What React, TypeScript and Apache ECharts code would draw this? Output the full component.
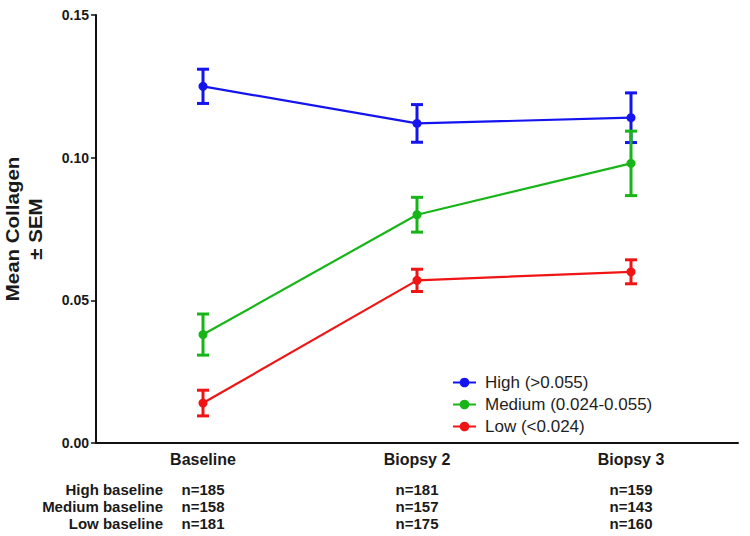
import React, { useEffect, useRef } from "react";
import * as echarts from "echarts";

const categories = ["Baseline", "Biopsy 2", "Biopsy 3"];
const seriesNames = ["High (>0.055)", "Medium (0.024-0.055)", "Low (<0.024)"];
const highMean = [0.125, 0.112, 0.114];
const highSem = [0.006, 0.0066, 0.0087];
const mediumMean = [0.038, 0.08, 0.098];
const mediumSem = [0.0072, 0.0061, 0.0113];
const lowMean = [0.014, 0.057, 0.06];
const lowSem = [0.0045, 0.0039, 0.0042];
const rowLabels = ["High baseline", "Medium baseline", "Low baseline"];
const nHigh = [185, 181, 159];
const nMedium = [158, 157, 143];
const nLow = [181, 175, 160];
const yTicks = { min: 0, max: 0.15, interval: 0.05 };

const colors = ["#1414f0", "#17b517", "#f01414"];
const FONT = "'Liberation Sans', Arial, Helvetica, sans-serif";

export default function App() {
  const ref = useRef<HTMLDivElement>(null);
  useEffect(() => {
    if (!ref.current) return;
    const chart = echarts.init(ref.current, undefined, { renderer: "svg" });
    const means = [highMean, mediumMean, lowMean];
    const sems = [highSem, mediumSem, lowSem];

    const lineSeries = means.map((m, k) => ({
      type: "line",
      name: seriesNames[k],
      data: m,
      symbol: "circle",
      symbolSize: 9,
      itemStyle: { color: colors[k] },
      lineStyle: { color: colors[k], width: 2.2 },
      z: 3,
    }));

    const errSeries = means.map((m, k) => ({
      type: "custom",
      name: seriesNames[k] + " SEM",
      data: m.map((v, i) => [i, v - sems[k][i], v + sems[k][i]]),
      encode: { x: 0, y: [1, 2] },
      z: 2,
      renderItem: (params: any, api: any) => {
        const xi = api.value(0);
        const lo = api.coord([xi, api.value(1)]);
        const hi = api.coord([xi, api.value(2)]);
        const w = 6;
        const st = { stroke: colors[k], lineWidth: 3 };
        return {
          type: "group",
          children: [
            { type: "line", shape: { x1: lo[0], y1: lo[1], x2: hi[0], y2: hi[1] }, style: st },
            { type: "line", shape: { x1: lo[0] - w, y1: lo[1], x2: lo[0] + w, y2: lo[1] }, style: st },
            { type: "line", shape: { x1: hi[0] - w, y1: hi[1], x2: hi[0] + w, y2: hi[1] }, style: st },
          ],
        };
      },
    }));

    const option: any = {
      animation: false,
      backgroundColor: "#ffffff",
      textStyle: { fontFamily: FONT },
      grid: { left: 96, right: 12, top: 15, bottom: 93, containLabel: false },
      legend: {
        data: seriesNames,
        orient: "vertical",
        left: 447,
        top: 369,
        itemWidth: 23,
        itemHeight: 12,
        itemGap: 5,
        textStyle: { fontSize: 17, color: "#1e1e1e", fontFamily: FONT, padding: [0, 0, 0, 4] },
      },
      xAxis: {
        type: "category",
        data: categories,
        boundaryGap: true,
        axisLine: { lineStyle: { color: "#111", width: 2 } },
        axisTick: { alignWithLabel: true, length: 5, lineStyle: { color: "#111", width: 1.5 } },
        axisLabel: {
          margin: 6,
          interval: 0,
          formatter: (v: string, i: number) =>
            `{cat|${v}}\n{gap| }\n{n|n=${nHigh[i]}}\n{n|n=${nMedium[i]}}\n{n|n=${nLow[i]}}`,
          rich: {
            cat: { fontSize: 16, fontWeight: "bold", color: "#1a1a1a", lineHeight: 20, fontFamily: FONT },
            gap: { fontSize: 8, lineHeight: 12 },
            n: { fontSize: 15, fontWeight: "bold", color: "#1a1a1a", lineHeight: 17, fontFamily: FONT },
          },
        },
      },
      yAxis: {
        type: "value",
        min: yTicks.min,
        max: yTicks.max,
        interval: yTicks.interval,
        splitLine: { show: false },
        axisLine: { show: true, lineStyle: { color: "#111", width: 2 } },
        axisTick: { show: true, length: 5, lineStyle: { color: "#111", width: 1.5 } },
        axisLabel: {
          formatter: (v: number) => v.toFixed(2),
          fontSize: 14,
          fontWeight: "bold",
          color: "#1a1a1a",
          margin: 7,
          fontFamily: FONT,
        },
      },
      graphic: [
        {
          type: "text",
          x: 24,
          y: 229,
          rotation: Math.PI / 2,
          scaleX: 1.08,
          style: {
            text: "Mean Collagen\n± SEM",
            fontSize: 19,
            fontWeight: "bold",
            fontFamily: FONT,
            fill: "#1a1a1a",
            align: "center",
            verticalAlign: "middle",
            lineHeight: 23,
          },
        },
        ...rowLabels.map((t, r) => ({
          type: "text",
          x: 163,
          y: 489 + r * 17,
          style: {
            text: t,
            fontSize: 15,
            fontWeight: "bold",
            fontFamily: FONT,
            fill: "#1a1a1a",
            align: "right",
            verticalAlign: "middle",
          },
        })),
      ],
      series: [...errSeries, ...lineSeries],
    };
    chart.setOption(option);
    return () => chart.dispose();
  }, []);
  return (
    <div
      ref={ref}
      style={{ position: "absolute", left: 0, top: 0, width: 750, height: 536 }}
    />
  );
}
